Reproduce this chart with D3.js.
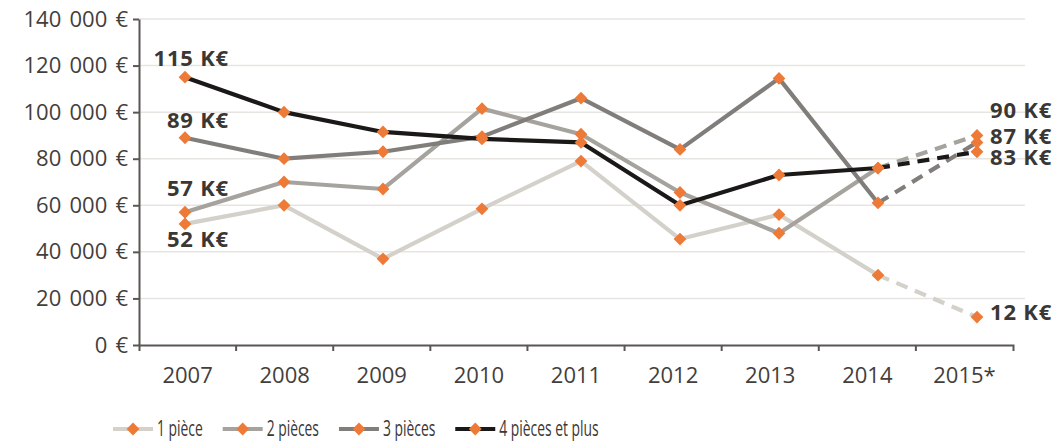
<!DOCTYPE html>
<html>
<head>
<meta charset="utf-8">
<script src="https://cdn.jsdelivr.net/npm/d3@7"></script>
<style>
  html, body { margin: 0; padding: 0; background: #fff; }
  svg { display: block; font-family: "Open Sans", "DejaVu Sans", sans-serif; }
</style>
</head>
<body>
<svg id="chart" width="1055" height="441"></svg>
<script>
// Prix moyen par typologie de logement (2015 : estimation)
const years = ["2007", "2008", "2009", "2010", "2011", "2012", "2013", "2014", "2015*"];
const onePiece    = [52000, 60000, 37000, 58500, 79000, 45500, 56000, 30000, 12000];
const twoPieces   = [57000, 70000, 67000, 101500, 90500, 65500, 48000, 76000, 90000];
const threePieces = [89000, 80000, 83000, 89500, 106000, 84000, 114500, 61000, 87000];
const fourPlus    = [115000, 100000, 91500, 88500, 87000, 60000, 73000, 76000, 83000];
const seriesNames = ["1 pièce", "2 pièces", "3 pièces", "4 pièces et plus"];
const yTicks = [0, 20000, 40000, 60000, 80000, 100000, 120000, 140000];

const series = [
  { name: seriesNames[0], values: onePiece,    color: "#d4d1cb" },
  { name: seriesNames[1], values: twoPieces,   color: "#a6a39f" },
  { name: seriesNames[2], values: threePieces, color: "#807d7a" },
  { name: seriesNames[3], values: fourPlus,    color: "#1b1918" }
];

const svg = d3.select("#chart");
const textColor = "#433e3c";
const axisColor = "#5a5654";
const markerColor = "#ee7a37";

// scales
const y = d3.scaleLinear().domain([0, 140000]).range([345, 19]);
const xBand = d3.scaleBand().domain(years).range([139, 1013]);
const xPoint = d3.scalePoint().domain(years).range([185, 977]);
const gridRight = 1025;

// horizontal gridlines
svg.append("g").selectAll("line")
  .data(yTicks.filter(d => d > 0))
  .join("line")
  .attr("x1", 139).attr("x2", gridRight)
  .attr("y1", d => y(d)).attr("y2", d => y(d))
  .attr("stroke", "#e7e5e2").attr("stroke-width", 1.5);

// y axis
const fmt = d => (d === 0 ? "0" : d3.format(",")(d).replace(/,/g, " ")) + " €";
const yAxis = svg.append("g")
  .attr("transform", "translate(139,0)")
  .call(d3.axisLeft(y).tickValues(yTicks).tickFormat(fmt).tickSizeInner(6).tickSizeOuter(0).tickPadding(5));
yAxis.select(".domain").attr("stroke", axisColor).attr("stroke-width", 2);
yAxis.selectAll(".tick line").attr("stroke", axisColor).attr("stroke-width", 2);
yAxis.selectAll(".tick text")
  .attr("fill", textColor).attr("font-size", 22).attr("word-spacing", 2.5)
  .attr("font-family", "Open Sans");

// x axis
const xAxis = svg.append("g")
  .attr("transform", "translate(0,345)")
  .call(d3.axisBottom(xBand).tickSizeInner(0).tickSizeOuter(6).tickPadding(22));
xAxis.select(".domain").attr("stroke", axisColor).attr("stroke-width", 2);
xAxis.selectAll(".tick text")
  .attr("fill", textColor).attr("font-size", 22).attr("font-family", "Open Sans");
xAxis.selectAll("line.boundary")
  .data(years.slice(1))
  .join("line").attr("class", "boundary")
  .attr("x1", d => xBand(d)).attr("x2", d => xBand(d))
  .attr("y1", 0).attr("y2", 6)
  .attr("stroke", axisColor).attr("stroke-width", 2);

// lines: solid up to 2014, dashed for the 2015 estimate
const line = d3.line().x(d => xPoint(d.year)).y(d => y(d.value));
const lastSolid = years.length - 2;
const lineG = svg.append("g").attr("fill", "none").attr("stroke-linejoin", "round");
series.forEach(s => {
  const pts = s.values.map((v, i) => ({ year: years[i], value: v }));
  lineG.append("path")
    .attr("d", line(pts.slice(0, lastSolid + 1)))
    .attr("stroke", s.color).attr("stroke-width", 4.2);
  lineG.append("path")
    .attr("d", line(pts.slice(lastSolid)))
    .attr("stroke", s.color).attr("stroke-width", 4.2)
    .attr("stroke-dasharray", "12,8");
});

// diamond markers
const diamond = d3.symbol().type(d3.symbolSquare).size(82);
const markerG = svg.append("g");
series.forEach(s => {
  markerG.selectAll(null)
    .data(s.values.map((v, i) => ({ year: years[i], value: v })))
    .join("path")
    .attr("d", diamond)
    .attr("transform", d => `translate(${xPoint(d.year)},${y(d.value)}) rotate(45)`)
    .attr("fill", markerColor);
});

// value labels at both ends
const kLabel = v => Math.round(v / 1000) + " K€";
const labelG = svg.append("g")
  .attr("font-weight", 700).attr("font-size", 22).attr("fill", "#3b3735");
const firstYear = years[0], lastYear = years[years.length - 1];
const startOffsets = [23, -16, -10, -11];   // 1, 2, 3, 4+ pièces
const endOffsets = [3, -17, 2, 13];
series.forEach((s, i) => {
  labelG.append("text")
    .attr("x", xPoint(firstYear) + 44)
    .attr("y", y(s.values[0]) + startOffsets[i])
    .attr("text-anchor", "end")
    .attr("letter-spacing", 0.8)
    .text(kLabel(s.values[0]));
  labelG.append("text")
    .attr("x", xPoint(lastYear) + 13)
    .attr("y", y(s.values[years.length - 1]) + endOffsets[i])
    .attr("letter-spacing", 0.8)
    .text(kLabel(s.values[years.length - 1]));
});

// legend
const legend = svg.append("g").attr("transform", "translate(113,429)");
let lx = 0;
series.forEach(s => {
  const item = legend.append("g").attr("transform", `translate(${lx},0)`);
  item.append("line").attr("x1", 0).attr("x2", 40).attr("y1", 0).attr("y2", 0)
    .attr("stroke", s.color).attr("stroke-width", 4.2);
  item.append("path").attr("d", diamond)
    .attr("transform", "translate(20,0) rotate(45)").attr("fill", markerColor);
  const t = item.append("text")
    .attr("transform", "translate(44,0) scale(0.66,1)")
    .attr("dy", "0.35em")
    .attr("font-size", 21).attr("fill", "#3b3736")
    .text(s.name);
  lx += 44 + t.node().getComputedTextLength() * 0.66 + 20;
});
</script>
</body>
</html>
